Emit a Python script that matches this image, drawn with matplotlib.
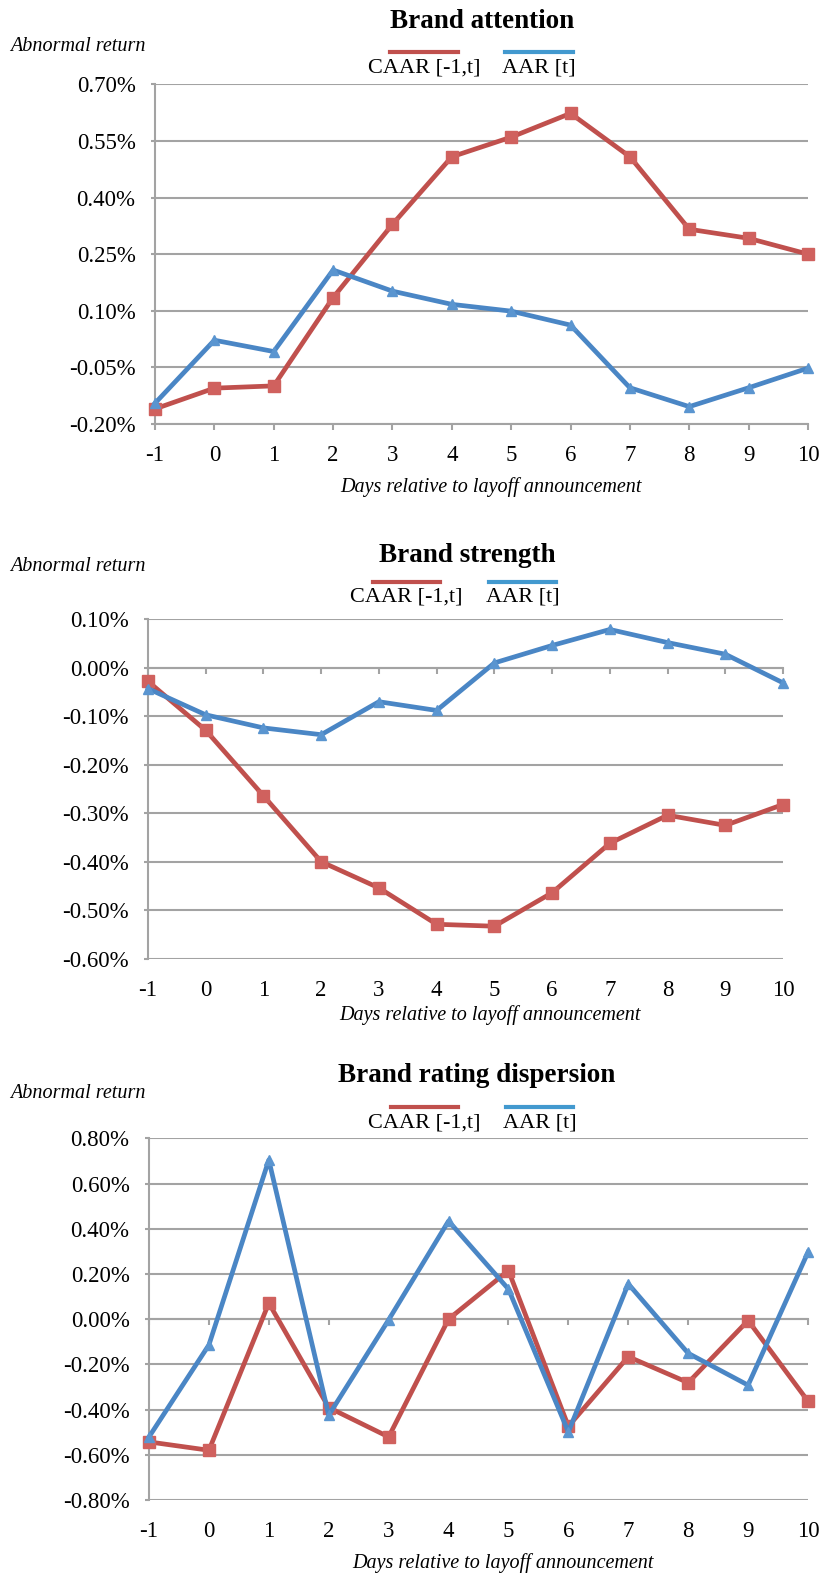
#!/usr/bin/env python3
"""
Event-study plots: CAAR / AAR around layoff announcements
for three brand-related samples, stacked in one figure.
"""

import matplotlib
matplotlib.use("Agg")
import matplotlib.pyplot as plt
from matplotlib.lines import Line2D


# ── Data (abnormal returns, in %) ─────────────────────────────────────────────
DAYS = [-1, 0, 1, 2, 3, 4, 5, 6, 7, 8, 9, 10]

ATTENTION_CAAR = [-0.160, -0.105, -0.099, 0.135, 0.329, 0.508, 0.560, 0.623, 0.508, 0.316, 0.292, 0.250]
ATTENTION_AAR = [-0.145, 0.022, -0.008, 0.208, 0.152, 0.117, 0.099, 0.062, -0.104, -0.154, -0.104, -0.052]
ATTENTION_TICKS = [-0.20, -0.05, 0.10, 0.25, 0.40, 0.55, 0.70]

STRENGTH_CAAR = [-0.028, -0.129, -0.264, -0.400, -0.454, -0.529, -0.533, -0.464, -0.362, -0.304, -0.325, -0.282]
STRENGTH_AAR = [-0.043, -0.097, -0.124, -0.138, -0.070, -0.088, 0.010, 0.046, 0.079, 0.052, 0.028, -0.031]
STRENGTH_TICKS = [-0.60, -0.50, -0.40, -0.30, -0.20, -0.10, 0.00, 0.10]

DISPERSION_CAAR = [-0.543, -0.580, 0.071, -0.391, -0.521, 0.000, 0.215, -0.474, -0.166, -0.281, -0.006, -0.363]
DISPERSION_AAR = [-0.521, -0.114, 0.704, -0.425, -0.003, 0.434, 0.133, -0.499, 0.156, -0.151, -0.292, 0.296]
DISPERSION_TICKS = [-0.80, -0.60, -0.40, -0.20, 0.00, 0.20, 0.40, 0.60, 0.80]

TITLES = ["Brand attention", "Brand strength", "Brand rating dispersion"]
SERIES_LABELS = ["CAAR [-1,t]", "AAR [t]"]
Y_TITLE = "Abnormal return"
X_TITLE = "Days relative to layoff announcement"

# ── Style ─────────────────────────────────────────────────────────────────────
W, H = 822, 1577
RED = "#C0504D"
RED_MARK = "#D0615E"
BLUE = "#4A86C5"
BLUE_MARK = "#5A95D0"
BLUE_LEGEND = "#4299CF"
GRID = "#A3A3A3"
FONT = "Liberation Serif"

plt.rcParams["font.family"] = [FONT, "DejaVu Serif"]


def fx(px):
    return px / W


def fy(py):
    return 1 - py / H


# per-panel layout in pixels: axes box, where the x-axis crosses, text anchors
LAYOUT = [
    dict(box=(155, 808, 84.3, 424), cross=-0.20, title=(482, 21.7), ytitle=46.7,
         leg_y=52.3, leg_red=(390, 458), leg_blue=(505, 573), leg_text=68, xtitle=(491, 487)),
    dict(box=(148, 783, 619.3, 958.7), cross=0.0, title=(467, 555), ytitle=566,
         leg_y=581.7, leg_red=(373, 440), leg_blue=(489, 556), leg_text=597, xtitle=(490, 1015)),
    dict(box=(149, 808, 1138.3, 1500), cross=0.0, title=(477, 1075), ytitle=1093,
         leg_y=1106.7, leg_red=(391, 458), leg_blue=(506, 573), leg_text=1123, xtitle=(503, 1563)),
]


def draw_panel(fig, lay, title, caar, aar, yticks):
    x0, x1, top, bottom = lay["box"]
    ax = fig.add_axes([fx(x0), fy(bottom), fx(x1 - x0), (bottom - top) / H])

    ax.plot(DAYS, caar, color=RED, linewidth=3.4, marker="s", markersize=8,
            markerfacecolor=RED_MARK, markeredgecolor=RED_MARK, clip_on=False, zorder=3)
    ax.plot(DAYS, aar, color=BLUE, linewidth=3.4, marker="^", markersize=6.5,
            markerfacecolor=BLUE_MARK, markeredgecolor=BLUE_MARK, clip_on=False, zorder=4)

    ax.set_xlim(DAYS[0], DAYS[-1])
    ax.set_ylim(yticks[0], yticks[-1])
    ax.set_yticks(yticks)
    ax.set_yticklabels([f"{v:.2f}%" for v in yticks], fontsize=16.5)
    ax.yaxis.grid(True, color=GRID, linewidth=1.5)
    ax.set_axisbelow(True)

    for side in ["top", "right"]:
        ax.spines[side].set_visible(False)
    ax.spines["left"].set_color(GRID)
    ax.spines["left"].set_linewidth(1.5)
    ax.spines["bottom"].set_color(GRID)
    ax.spines["bottom"].set_linewidth(1.5)
    ax.spines["bottom"].set_position(("data", lay["cross"]))

    ax.tick_params(axis="y", direction="out", length=3, width=1.5, color=GRID, pad=11)
    ax.set_xticks(DAYS)
    ax.tick_params(axis="x", direction="out", length=4, width=1.5, color=GRID, labelbottom=False)

    # day labels always sit under the plot, even when the axis crosses at zero
    sec = ax.secondary_xaxis("bottom")
    sec.set_xticks(DAYS)
    sec.set_xticklabels([str(d) for d in DAYS], fontsize=16.5)
    sec.tick_params(length=0, pad=15)
    sec.spines["bottom"].set_visible(False)

    # titles
    fig.text(fx(lay["title"][0]), fy(lay["title"][1]), title, ha="center", va="center",
             fontsize=19.5, fontweight="bold")
    fig.text(fx(10), fy(lay["ytitle"]), Y_TITLE, ha="left", va="center",
             fontsize=14.5, style="italic")
    fig.text(fx(lay["xtitle"][0]), fy(lay["xtitle"][1]), X_TITLE, ha="center", va="center",
             fontsize=14.5, style="italic")

    # legend: swatch line above each label
    for (lx0, lx1), color, label in zip([lay["leg_red"], lay["leg_blue"]],
                                        [RED, BLUE_LEGEND], SERIES_LABELS):
        fig.add_artist(Line2D([fx(lx0), fx(lx1)], [fy(lay["leg_y"])] * 2,
                              color=color, linewidth=3.0, transform=fig.transFigure))
        fig.text(fx((lx0 + lx1) / 2), fy(lay["leg_text"]), label, ha="center", va="center",
                 fontsize=16)
    return ax


def main():
    fig = plt.figure(figsize=(W / 100, H / 100), dpi=100)
    panels = [
        (ATTENTION_CAAR, ATTENTION_AAR, ATTENTION_TICKS),
        (STRENGTH_CAAR, STRENGTH_AAR, STRENGTH_TICKS),
        (DISPERSION_CAAR, DISPERSION_AAR, DISPERSION_TICKS),
    ]
    for lay, title, (caar, aar, ticks) in zip(LAYOUT, TITLES, panels):
        draw_panel(fig, lay, title, caar, aar, ticks)

    fig.savefig("out.png", dpi=100)
    plt.close(fig)


if __name__ == "__main__":
    main()
